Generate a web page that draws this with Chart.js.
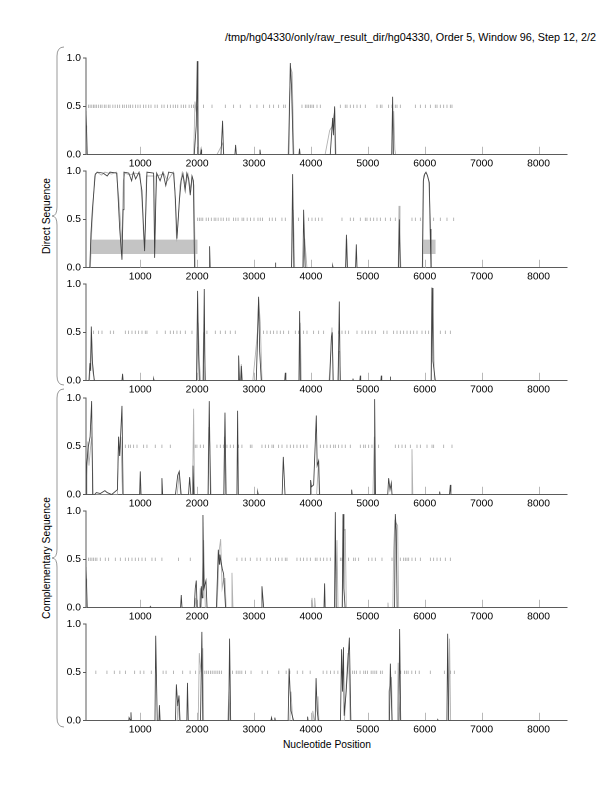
<!DOCTYPE html>
<html>
<head>
<meta charset="utf-8">
<script src="https://cdn.jsdelivr.net/npm/chart.js@4.4.1/dist/chart.umd.min.js"></script>
<style>
  html, body { margin:0; padding:0; background:#fff; }
  body { width:612px; height:792px; position:relative; overflow:hidden; font-family:"Liberation Sans", Arial, sans-serif; }
  canvas.panel { position:absolute; left:0; }
  .txt { position:absolute; font-size:10px; color:#000; white-space:nowrap; }
  #title { right:16px; top:31px; font-size:10.8px; }
  #xlabel { left:327px; top:739px; transform:translateX(-50%); font-size:10.3px; }
  .ylab { left:46px; transform:translate(-50%,-50%) rotate(-90deg); font-size:10.3px; }
  svg { position:absolute; left:0; top:0; }
</style>
</head>
<body>
<svg width="612" height="792">
  <path d="M 64 47 Q 57 47 57 56 L 57 207 Q 57 216 52 216 Q 57 216 57 225 L 57 376 Q 57 385 64 385" fill="none" stroke="#999" stroke-width="1"/>
  <path d="M 64 389 Q 57 389 57 398 L 57 549 Q 57 558 52 558 Q 57 558 57 567 L 57 718 Q 57 727 64 727" fill="none" stroke="#999" stroke-width="1"/>
</svg>
<div id="title" class="txt">/tmp/hg04330/only/raw_result_dir/hg04330, Order 5, Window 96, Step 12, 2/2</div>
<div class="txt ylab" style="top:216px;">Direct Sequence</div>
<div class="txt ylab" style="top:558px;">Complementary Sequence</div>
<div id="xlabel" class="txt">Nucleotide Position</div>

<canvas id="c1" class="panel"></canvas>
<canvas id="c2" class="panel"></canvas>
<canvas id="c3" class="panel"></canvas>
<canvas id="c4" class="panel"></canvas>
<canvas id="c5" class="panel"></canvas>
<canvas id="c6" class="panel"></canvas>

<script>
// ---------- data ----------
const xTicks = [1000, 2000, 3000, 4000, 5000, 6000, 7000, 8000];
const yTicks = [0, 0.5, 1.0];
const xMin = 48, xMax = 8500;

// panel 1 (direct, frame 1)
const p1Dark = [[48,0.45],[70,0],[1950,0],[1985,0.3],[2003,0.97],[2015,0],[2060,0],[2070,0.05],[2080,0],[2420,0],[2448,0.35],[2465,0],[2665,0],[2677,0.1],[2690,0],[3095,0],[3105,0.05],[3115,0],[3610,0],[3638,0.95],[3660,0.7],[3690,0],[3790,0],[3800,0.06],[3810,0],[4340,0],[4382,0.38],[4395,0.2],[4417,0.5],[4430,0],[5420,0],[5436,0.6],[5450,0],[8500,0]];
const p1Grey = [[48,0.3],[60,0],[1940,0],[1963,0.55],[1985,0.45],[2010,0.5],[2030,0],[2350,0],[2420,0.08],[2450,0.12],[2470,0],[3600,0],[3625,0.6],[3645,0.9],[3670,0.85],[3700,0],[4250,0],[4330,0.25],[4380,0.3],[4400,0.4],[4420,0.45],[4440,0],[5440,0],[5455,0.45],[5475,0.05],[5490,0],[8500,0]];
const p1Stops = [93,120,150,180,205,230,265,300,330,370,400,440,470,520,560,600,640,690,720,760,800,830,870,920,960,1000,1060,1100,1150,1190,1260,1300,1380,1420,1480,1530,1580,1620,1660,1720,1760,1800,1860,1900,1939,2114,2262,2496,2642,2759,2935,3052,3169,3275,3345,3433,3521,3550,3843,3902,3931,3961,3990,4019,4048,4107,4165,4517,4604,4634,4692,4751,4810,4868,4956,5161,5220,5249,5366,5425,5483,5513,5571,5835,5923,6011,6099,6186,6216,6274,6333,6391,6450,6479];

// panel 2 (direct, frame 2)
const p2Dark = [[48,0],[115,0],[135,0.35],[160,0.6],[211,0.97],[250,0.99],[350,0.98],[420,0.95],[470,0.99],[590,0.98],[615,0.7],[640,0.4],[680,0.08],[700,0.6],[715,0.99],[800,0.98],[850,0.9],[880,0.99],[920,0.92],[980,0.99],[1030,0.8],[1060,0.4],[1078,0.17],[1100,0.6],[1119,0.99],[1236,0.98],[1254,0.1],[1275,0.7],[1290,0.98],[1350,0.9],[1400,0.99],[1450,0.85],[1500,0.99],[1590,0.98],[1620,0.7],[1646,0.3],[1690,0.7],[1720,0.9],[1752,0.97],[1790,0.8],[1820,0.98],[1850,0.92],[1880,0.75],[1910,0.95],[1935,0.9],[1955,0],[2210,0],[2220,0.22],[2230,0],[3370,0],[3376,0.05],[3385,0],[3660,0],[3679,0.97],[3700,0],[3860,0],[3872,0.6],[3900,0],[4375,0],[4382,0.02],[4390,0],[4610,0],[4624,0.34],[4640,0],[4785,0],[4798,0.24],[4810,0],[5540,0],[5554,0.5],[5570,0],[5958,0],[5975,0.9],[6000,0.97],[6022,0.99],[6050,0.95],[6081,0.88],[6095,0.4],[6110,0],[8500,0]];
const p2Grey = [[48,0],[125,0],[150,0.4],[200,0.95],[240,0.99],[320,0.96],[380,0.99],[500,0.97],[580,0.99],[621,0.75],[650,0.5],[675,0.2],[705,0.9],[730,0.98],[820,0.96],[900,0.98],[1000,0.97],[1040,0.6],[1070,0.2],[1090,0.4],[1110,0.95],[1240,0.95],[1258,0.2],[1280,0.95],[1420,0.97],[1480,0.9],[1580,0.99],[1610,0.8],[1640,0.27],[1670,0.5],[1700,0.85],[1740,0.99],[1800,0.85],[1840,0.97],[1890,0.8],[1920,0.93],[1945,0.85],[1968,0],[3660,0],[3690,0.6],[3715,0],[3870,0],[3890,0.3],[3930,0],[4610,0],[4630,0.3],[4645,0],[5535,0],[5548,0.64],[5565,0.3],[5580,0],[5965,0],[5980,0.95],[6010,0.98],[6040,0.97],[6070,0.9],[6100,0.5],[6120,0],[8500,0]];
const p2Stops = [2010,2040,2070,2100,2160,2200,2250,2300,2330,2370,2420,2460,2520,2560,2640,2680,2720,2790,2820,2880,2940,3000,3070,3110,3150,3270,3320,3380,3491,3550,3696,3784,3960,4019,4077,4136,4195,4546,4692,4751,4868,4956,4985,5044,5103,5161,5220,5308,5396,5483,5776,5835,5923,6157,6274,6391,6509];
const p2Boxes = [[123,2009],[5970,6192]];
const boxLow = 0.14, boxHigh = 0.29;

// panel 3 (direct, frame 3)
const p3Dark = [[48,0],[100,0],[117,0.18],[130,0.1],[141,0.56],[160,0.2],[193,0],[680,0],[691,0.07],[700,0],[1230,0],[1236,0.02],[1245,0],[1990,0],[2009,0.93],[2025,0.3],[2040,0],[2110,0],[2126,0.95],[2140,0],[2720,0],[2730,0.26],[2745,0],[2770,0],[2777,0.15],[2790,0],[3040,0],[3060,0.4],[3081,0.87],[3100,0.3],[3128,0],[3540,0],[3550,0.08],[3560,0],[3790,0],[3802,0.72],[3815,0],[4330,0],[4360,0.45],[4375,0.5],[4390,0],[4480,0],[4499,0.82],[4515,0],[4735,0],[4739,0.02],[4745,0],[4860,0],[4868,0.05],[4875,0],[5230,0],[5237,0.05],[5245,0],[5390,0],[5396,0.04],[5402,0],[6115,0],[6128,0.96],[6145,0.2],[6186,0],[8500,0]];
const p3Grey = [[48,0],[110,0],[130,0.3],[145,0.5],[165,0.1],[200,0],[1995,0],[2020,0.6],[2040,0.2],[2060,0],[2100,0],[2115,0.5],[2130,0.3],[2150,0],[2760,0],[2777,0.17],[2795,0],[2980,0],[3030,0.3],[3060,0.5],[3081,0.85],[3110,0.6],[3140,0],[3795,0],[3812,0.6],[3830,0],[4320,0],[4350,0.3],[4370,0.55],[4395,0],[4470,0],[4487,0.3],[4505,0.3],[4520,0],[6110,0],[6125,0.97],[6140,0.9],[6170,0],[8500,0]];
const p3Stops = [182,270,329,475,534,739,797,856,914,973,1032,1090,1119,1295,1441,1529,1587,1646,1705,1793,1910,2173,2320,2408,2496,2583,2671,3169,3228,3287,3345,3404,3462,3521,3609,3726,3784,3872,3931,4048,4136,4224,4370,4487,4546,4604,4663,4810,4898,4956,5015,5073,5132,5279,5337,5454,5513,5571,5630,5689,5747,5806,5864,5952,6011,6069,6274,6362,6450];

// panel 4 (complementary, frame 1)
const p4Dark = [[48,0],[60,0.3],[90,0.5],[120,0.6],[147,0.97],[165,0],[200,0],[230,0.02],[300,0.01],[380,0.04],[420,0.02],[500,0],[600,0.05],[621,0.6],[640,0.4],[680,0.92],[700,0],[990,0],[1002,0.24],[1015,0],[1370,0],[1382,0.17],[1395,0],[1620,0],[1660,0.2],[1687,0.24],[1720,0],[1850,0],[1869,0.18],[1890,0],[1915,0],[1928,0.3],[1945,0],[2195,0],[2214,0.97],[2235,0],[2470,0],[2490,0.85],[2510,0],[2700,0],[2712,0.87],[2725,0],[3060,0],[3064,0.03],[3075,0],[3495,0],[3515,0.39],[3545,0],[3985,0],[3995,0.15],[4010,0.08],[4048,0.1],[4095,0.82],[4110,0.3],[4136,0.35],[4150,0],[4710,0],[4716,0.05],[4725,0],[5110,0],[5120,0.99],[5135,0],[5350,0],[5366,0.17],[5390,0.05],[5413,0.12],[5425,0],[6255,0],[6262,0.03],[6270,0],[6435,0],[6450,0.1],[6460,0],[8500,0]];
const p4Grey = [[48,0],[60,0.2],[80,0.55],[100,0.3],[130,0.5],[150,0.6],[175,0],[600,0],[621,0.6],[640,0.4],[660,0.6],[690,0],[1650,0],[1687,0.22],[1710,0],[1920,0],[1939,0.89],[1955,0],[2190,0],[2205,0.7],[2225,0.5],[2245,0],[2470,0],[2480,0.6],[2500,0],[4100,0],[4136,0.35],[4155,0],[5090,0],[5102,0.3],[5115,0.6],[5130,0],[5765,0],[5776,0.47],[5790,0],[8500,0]];
const p4Stops = [739,797,827,885,944,1061,1119,1265,1382,1529,1968,1997,2056,2114,2349,2408,2466,2525,2583,2642,2730,2788,2935,2964,3140,3199,3257,3316,3345,3433,3492,3579,3638,3697,3755,3814,3872,3931,4165,4224,4282,4341,4400,4429,4487,4546,4604,4692,4868,4927,4956,5015,5073,5190,5483,5542,5601,5659,5747,5864,5923,6040,6128,6157,6333,6479];

// panel 5 (complementary, frame 2)
const p5Dark = [[48,0.42],[70,0],[1172,0],[1178,0.01],[1185,0],[1710,0],[1722,0.13],[1735,0],[1950,0],[1968,0.2],[1986,0.28],[2000,0],[2060,0],[2074,0.22],[2088,0.1],[2103,0.96],[2120,0.2],[2156,0.28],[2175,0],[2340,0],[2373,0.6],[2390,0.45],[2400,0.55],[2443,0.4],[2466,0.35],[2500,0],[3125,0],[3140,0.22],[3170,0],[4230,0],[4241,0.25],[4250,0],[4415,0],[4429,0.99],[4445,0],[4550,0],[4564,0.97],[4580,0.2],[4600,0],[5470,0],[5483,0.97],[5500,0.8],[5515,0],[8500,0]];
const p5Grey = [[48,0.3],[60,0],[1960,0],[1975,0.1],[1990,0],[2040,0],[2056,0.2],[2075,0],[2085,0],[2097,0.35],[2115,0.7],[2130,0.3],[2145,0],[2350,0],[2390,0.6],[2414,0.71],[2440,0.2],[2470,0.3],[2490,0.3],[2510,0],[2600,0],[2613,0.36],[2630,0],[4005,0],[4019,0.1],[4035,0],[4055,0],[4066,0.1],[4080,0],[4440,0],[4458,0.7],[4476,0],[4555,0],[4575,0.8],[4604,0.81],[4622,0],[5348,0],[5354,0.05],[5360,0],[5440,0],[5454,0.6],[5475,0.9],[5524,0.85],[5542,0],[8500,0]];
const p5Stops = [93,122,152,182,211,240,299,387,446,563,651,739,797,856,914,973,1032,1090,1207,1265,1382,1675,1880,2700,2788,2847,2935,3052,3111,3228,3287,3376,3433,3492,3550,3579,3755,3814,3872,3931,3990,4077,4107,4165,4224,4282,4341,4429,4517,4546,4663,4751,4780,4839,5015,5073,5132,5249,5425,5571,5630,5659,5689,5718,5776,5835,5923,6099,6157,6216,6274,6362,6450];

// panel 6 (complementary, frame 3)
const p6Dark = [[48,0],[800,0],[805,0.03],[830,0],[838,0.085],[845,0],[1260,0],[1273,0.88],[1300,0],[1330,0],[1338,0.16],[1350,0],[1620,0],[1636,0.375],[1660,0.15],[1682,0.26],[1700,0],[1820,0],[1831,0.39],[1845,0],[2060,0],[2084,0.92],[2100,0],[2555,0],[2571,0.85],[2590,0],[3298,0],[3308,0.03],[3318,0],[3358,0],[3366,0.03],[3375,0],[3600,0],[3617,0.54],[3650,0.1],[3695,0],[3935,0],[3942,0.04],[3950,0],[4075,0],[4091,0.44],[4110,0.1],[4130,0],[4520,0],[4539,0.74],[4555,0.3],[4572,0.76],[4585,0.05],[4620,0.3],[4676,0.86],[4702,0],[5380,0],[5396,0.59],[5410,0.3],[5425,0],[5545,0],[5559,0.95],[5578,0],[6220,0],[6228,0.01],[6240,0],[6390,0],[6403,0.9],[6420,0],[8500,0]];
const p6Grey = [[48,0],[1650,0],[1665,0.2],[1690,0],[2020,0],[2039,0.7],[2070,0.5],[2100,0.75],[2115,0],[2540,0],[2560,0.3],[2580,0],[3630,0],[3650,0.3],[3680,0],[4020,0],[4033,0.1],[4060,0],[4110,0],[4124,0.25],[4140,0],[4590,0],[4617,0.33],[4650,0.7],[4670,0.5],[4690,0],[5355,0],[5370,0.3],[5416,0.45],[5430,0],[5520,0],[5533,0.6],[5550,0.2],[5570,0],[6420,0],[6436,0.85],[6455,0],[8500,0]];
const p6Stops = [221,416,545,643,740,903,1000,1065,1195,1403,1455,1584,1747,1877,1974,2039,2136,2169,2201,2234,2266,2299,2331,2364,2396,2429,2624,2688,2721,2753,2786,2851,2948,3143,3240,3435,3565,3630,3760,3857,3987,4215,4280,4344,4409,4474,4637,4669,4734,4767,4799,4864,4929,4961,4994,5059,5091,5124,5156,5221,5254,5481,5578,5643,5676,5708,5773,5838,5903,6098,6345,6455,6520];

// ---------- layout ----------
const plotTops = [55.5, 168.8, 282, 395.5, 509, 622.3];
const PAD_TOP = 6, PLOT_H = 98.5, XAX_H = 16.5, Y_W = 86, PAD_RIGHT = 45;

const FONT = { family: '"Liberation Sans", Arial, sans-serif', size: 10.3 };

const innerTicks = {
  id: 'innerTicks',
  beforeDatasetsDraw(chart) {
    const xs = chart.scales.x, ys = chart.scales.y, ctx = chart.ctx;
    ctx.save();
    ctx.strokeStyle = '#b8b8b8';
    ctx.lineWidth = 1;
    const y0 = ys.getPixelForValue(0), y1 = ys.getPixelForValue(0.08);
    xTicks.forEach(v => {
      const px = Math.round(xs.getPixelForValue(v)) + 0.5;
      ctx.beginPath(); ctx.moveTo(px, y0); ctx.lineTo(px, y1); ctx.stroke();
    });
    ctx.restore();
  }
};

function pts(arr) { return arr.map(p => ({ x: p[0], y: p[1] })); }

function makePanel(id, idx, dark, grey, stops, boxes) {
  const cv = document.getElementById(id);
  const h = PAD_TOP + PLOT_H + XAX_H;
  cv.style.top = (plotTops[idx] - PAD_TOP) + 'px';
  cv.width = 612; cv.height = h;

  const datasets = [
    { data: pts(dark), borderColor: '#404040', borderWidth: 0.85, pointRadius: 0, tension: 0, order: 0 },
    { data: pts(grey), borderColor: '#b2b2b2', borderWidth: 0.9, pointRadius: 0, tension: 0, order: 1 },
    { data: stops.map(x => ({ x: x, y: 0.5 })), showLine: false, pointStyle: 'line', pointRotation: 90,
      pointRadius: 1.7, pointBorderColor: '#a6a6a6', borderColor: '#a6a6a6', pointBorderWidth: 0.8, order: 2 }
  ];
  (boxes || []).forEach(b => {
    datasets.push({ data: [{ x: b[0], y: boxHigh }, { x: b[1], y: boxHigh }], borderWidth: 0, pointRadius: 0,
      fill: '+1', backgroundColor: '#c4c4c4', borderColor: 'rgba(0,0,0,0)', order: 10 });
    datasets.push({ data: [{ x: b[0], y: boxLow }, { x: b[1], y: boxLow }], borderWidth: 0, pointRadius: 0,
      borderColor: 'rgba(0,0,0,0)', order: 10 });
  });

  new Chart(cv, {
    type: 'line',
    data: { datasets },
    plugins: [innerTicks],
    options: {
      responsive: false, animation: false, devicePixelRatio: 2,
      layout: { padding: { top: PAD_TOP, right: PAD_RIGHT, left: 0, bottom: 0 } },
      plugins: { legend: { display: false }, tooltip: { enabled: false } },
      scales: {
        x: {
          type: 'linear', min: xMin, max: xMax,
          afterBuildTicks: s => { s.ticks = xTicks.map(v => ({ value: v })); },
          afterFit: s => { s.height = XAX_H; },
          grid: { display: false, drawTicks: false, tickLength: 0 },
          border: { display: true, color: '#5a5a5a', width: 1 },
          ticks: { font: FONT, color: '#000', padding: 3, maxRotation: 0, autoSkip: false,
                   callback: v => String(v) }
        },
        y: {
          type: 'linear', min: 0, max: 1,
          afterBuildTicks: s => { s.ticks = yTicks.map(v => ({ value: v })); },
          afterFit: s => { s.width = Y_W; },
          grid: { display: true, drawOnChartArea: false, drawTicks: true, tickLength: 3, color: '#5a5a5a' },
          border: { display: true, color: '#5a5a5a', width: 1 },
          ticks: { font: FONT, color: '#000', padding: 2, callback: v => Number(v).toFixed(1) }
        }
      }
    }
  });
}

makePanel('c1', 0, p1Dark, p1Grey, p1Stops);
makePanel('c2', 1, p2Dark, p2Grey, p2Stops, p2Boxes);
makePanel('c3', 2, p3Dark, p3Grey, p3Stops);
makePanel('c4', 3, p4Dark, p4Grey, p4Stops);
makePanel('c5', 4, p5Dark, p5Grey, p5Stops);
makePanel('c6', 5, p6Dark, p6Grey, p6Stops);
</script>
</body>
</html>
